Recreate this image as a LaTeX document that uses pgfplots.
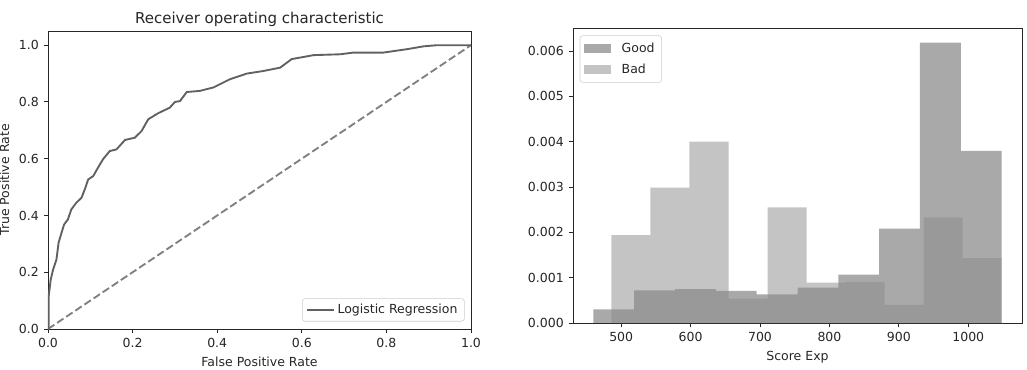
\documentclass[border=0pt]{standalone}
\usepackage{fontspec}
\setmainfont{DejaVu Sans}
\usepackage{pgfplots}
\pgfplotsset{compat=1.18}
\begin{document}
\begin{tikzpicture}
\pgfplotsset{
 mpl/.style={
  scale only axis,
  axis line style={line width=0.7pt, black!85},
  tick align=outside, tick pos=left, major tick length=3.15pt,
  every tick/.style={black!85, line width=0.7pt},
  tick label style={font=\fontsize{9}{10}\selectfont, text=black!85},
  label style={font=\fontsize{9}{10}\selectfont, text=black!85},
  /pgf/number format/assume math mode=true,
  /pgf/number format/1000 sep={},
  legend style={font=\fontsize{9}{10}\selectfont, draw=black!20, rounded corners=2pt, text=black!85},
  legend cell align=left,
 }
}
\useasboundingbox (0pt,0pt) rectangle (739.44pt,265.68pt);
\begin{axis}[mpl, at={(34.56pt,28.8pt)}, anchor=south west, width=304.56pt, height=214.56pt,
 xmin=0, xmax=1, ymin=0, ymax=1.05,
 xtick={0,0.2,0.4,0.6,0.8,1}, ytick={0,0.2,0.4,0.6,0.8,1},
 xticklabel style={/pgf/number format/.cd, fixed, fixed zerofill, precision=1},
 yticklabel style={/pgf/number format/.cd, fixed, fixed zerofill, precision=1},
 xlabel={False Positive Rate}, ylabel={True Positive Rate},
 title={Receiver operating characteristic},
 title style={font=\fontsize{10.8}{12}\selectfont, text=black!85, yshift=-6.5pt},
 legend style={at={(0.985,0.025)}, anchor=south east},
 legend image code/.code={\draw[#1, sharp corners] (0pt,0pt) -- (19pt,0pt);},
]
\addplot[black!50, line width=1.35pt, dash pattern=on 5.5pt off 2.4pt, forget plot] coordinates {(0,0) (1,1)};
\addplot[black!62, line width=1.35pt] coordinates {
(0,0) (0.0016,0.009) (0.0016,0.115) (0.0064,0.174) (0.012,0.209) (0.020,0.245)
(0.025,0.304) (0.032,0.339) (0.038,0.368) (0.047,0.386) (0.055,0.421) (0.067,0.445)
(0.079,0.462) (0.087,0.492) (0.095,0.527) (0.107,0.539) (0.118,0.568) (0.130,0.598)
(0.146,0.627) (0.162,0.633) (0.182,0.666) (0.205,0.674) (0.221,0.697) (0.237,0.739)
(0.260,0.760) (0.288,0.780) (0.300,0.800) (0.312,0.803) (0.328,0.835) (0.359,0.839)
(0.391,0.851) (0.430,0.880) (0.470,0.900) (0.509,0.909) (0.549,0.921) (0.576,0.951)
(0.628,0.965) (0.691,0.968) (0.722,0.974) (0.793,0.974) (0.849,0.986) (0.888,0.996)
(0.92,1.0) (1,1)};
\addlegendentry{Logistic Regression}
\end{axis}
\begin{axis}[mpl, at={(412.56pt,33.12pt)}, anchor=south west, width=323.28pt, height=212.4pt,
 xmin=430.6, xmax=1077.4, ymin=0, ymax=0.00651,
 xtick={500,600,700,800,900,1000},
 ytick={0,0.001,0.002,0.003,0.004,0.005,0.006}, scaled y ticks=false,
 yticklabel style={/pgf/number format/.cd, fixed, fixed zerofill, precision=3},
 xlabel={Score Exp},
 legend style={at={(0.015,0.975)}, anchor=north west, row sep=3pt, inner xsep=3pt, inner ysep=3pt},
 legend image code/.code={\fill[#1, sharp corners] (0pt,-3.2pt) rectangle (19pt,3.2pt); \path (25pt,0pt);},
]
\addplot[const plot, fill=black!67, fill opacity=0.5, draw=none] coordinates {
(460,0.00030) (518.8,0.00072) (577.6,0.00075) (636.4,0.00071) (695.2,0.00063) (754,0.00078)
(812.8,0.00107) (871.6,0.00208) (930.4,0.00619) (989.2,0.00380) (1048,0.00380)} \closedcycle;
\addlegendentry{Good}
\addplot[const plot, fill=black!46, fill opacity=0.5, draw=none] coordinates {
(486,0.00194) (542.2,0.00299) (598.4,0.00400) (654.6,0.00054) (710.8,0.00255) (767,0.00089)
(823.2,0.00091) (879.4,0.00040) (935.6,0.00233) (991.8,0.00143) (1048,0.00143)} \closedcycle;
\addlegendentry{Bad}
\end{axis}
\end{tikzpicture}
\end{document}
